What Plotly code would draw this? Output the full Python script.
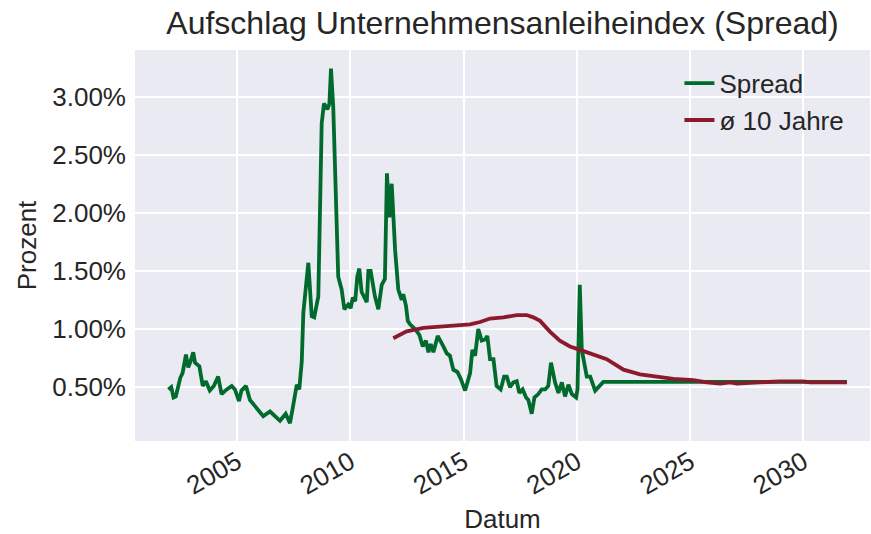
import plotly.graph_objects as go

# Spread (Prozent), decimal years
spread_year = [
    2001.97, 2002.10, 2002.20, 2002.30, 2002.50, 2002.60, 2002.75, 2002.85, 2002.95, 2003.07,
    2003.15, 2003.34, 2003.49, 2003.63, 2003.80, 2003.98, 2004.17, 2004.32, 2004.55, 2004.77,
    2004.91, 2005.09, 2005.20, 2005.40, 2005.57, 2005.80, 2005.94, 2006.16, 2006.46, 2006.68,
    2006.90, 2007.15, 2007.34, 2007.49, 2007.64, 2007.75, 2007.86, 2007.93, 2008.15, 2008.30,
    2008.41, 2008.59, 2008.74, 2008.84, 2008.99, 2009.08, 2009.15, 2009.25, 2009.47, 2009.62,
    2009.74, 2009.91, 2010.02, 2010.11, 2010.22, 2010.31, 2010.40, 2010.50, 2010.73, 2010.80,
    2010.90, 2011.09, 2011.24, 2011.39, 2011.53, 2011.62, 2011.73, 2011.83, 2011.98, 2012.12,
    2012.27, 2012.34, 2012.46, 2012.54, 2012.64, 2012.86, 2013.05, 2013.20, 2013.34, 2013.45,
    2013.55, 2013.67, 2013.86, 2014.11, 2014.26, 2014.40, 2014.55, 2014.73, 2014.88, 2015.07,
    2015.29, 2015.39, 2015.51, 2015.65, 2015.80, 2015.95, 2016.05, 2016.17, 2016.32, 2016.46,
    2016.64, 2016.79, 2016.91, 2017.05, 2017.20, 2017.35, 2017.46, 2017.61, 2017.76, 2017.86,
    2018.01, 2018.13, 2018.30, 2018.45, 2018.60, 2018.74, 2018.86, 2019.04, 2019.19, 2019.34,
    2019.48, 2019.63, 2019.78, 2019.97, 2020.03, 2020.13, 2020.22, 2020.44, 2020.59, 2020.81,
    2021.03, 2021.17, 2022.0, 2024.0, 2026.0, 2028.0, 2030.0, 2031.92,
]
spread_value = [
    0.48, 0.50, 0.41, 0.42, 0.58, 0.62, 0.78, 0.67, 0.72, 0.80,
    0.71, 0.68, 0.51, 0.55, 0.47, 0.51, 0.59, 0.44, 0.48, 0.51,
    0.48, 0.38, 0.47, 0.51, 0.39, 0.34, 0.31, 0.25, 0.29, 0.25,
    0.21, 0.27, 0.19, 0.35, 0.52, 0.48, 0.72, 1.14, 1.57, 1.11,
    1.10, 1.28, 2.77, 2.94, 2.89, 2.94, 3.24, 2.91, 1.45, 1.34,
    1.17, 1.21, 1.18, 1.27, 1.24, 1.45, 1.52, 1.32, 1.23, 1.50,
    1.50, 1.28, 1.17, 1.38, 1.43, 2.34, 1.96, 2.25, 1.68, 1.34,
    1.25, 1.30, 1.20, 1.07, 1.04, 1.00, 0.95, 0.85, 0.90, 0.80,
    0.87, 0.80, 0.94, 0.85, 0.79, 0.77, 0.65, 0.63, 0.57, 0.47,
    0.62, 0.82, 0.77, 1.00, 0.90, 0.91, 0.94, 0.74, 0.74, 0.51,
    0.48, 0.59, 0.59, 0.50, 0.54, 0.55, 0.45, 0.48, 0.41, 0.39,
    0.27, 0.41, 0.44, 0.48, 0.48, 0.51, 0.71, 0.54, 0.45, 0.54,
    0.42, 0.52, 0.44, 0.41, 0.48, 1.38, 0.82, 0.59, 0.59, 0.47,
    0.52, 0.545, 0.545, 0.545, 0.545, 0.545, 0.545, 0.545,
]

# 10-year rolling average (Prozent)
avg_year = [
    2011.90, 2012.49, 2013.23, 2013.96, 2014.70, 2015.29, 2015.73, 2016.17, 2016.76, 2017.35,
    2017.79, 2018.08, 2018.38, 2018.80, 2019.25, 2019.70, 2020.14, 2020.58, 2021.03, 2021.32,
    2022.06, 2022.79, 2023.53, 2024.26, 2025.14, 2025.74, 2026.33, 2026.77, 2027.06, 2027.95,
    2028.97, 2030.00, 2030.30, 2031.92,
]
avg_value = [
    0.92, 0.98, 1.01, 1.02, 1.03, 1.04, 1.06, 1.09, 1.10, 1.12,
    1.12, 1.10, 1.07, 0.98, 0.90, 0.85, 0.82, 0.79, 0.76, 0.74,
    0.65, 0.61, 0.59, 0.57, 0.56, 0.54, 0.53, 0.54, 0.53, 0.54,
    0.55, 0.55, 0.54, 0.54,
]

x_ticks = [2005, 2010, 2015, 2020, 2025, 2030]
x_tick_text = ["2005", "2010", "2015", "2020", "2025", "2030"]
y_ticks = [0.5, 1.0, 1.5, 2.0, 2.5, 3.0]
y_tick_text = ["0.50%", "1.00%", "1.50%", "2.00%", "2.50%", "3.00%"]

FONT = "Liberation Sans, Arial, sans-serif"
TXT = "#262626"

fig = go.Figure()
fig.add_trace(go.Scatter(x=spread_year, y=spread_value, mode="lines", name="Spread",
                         legendgroup="a",
                         line=dict(color="#006B2D", width=3.8)))
fig.add_trace(go.Scatter(x=avg_year, y=avg_value, mode="lines", name="ø 10 Jahre",
                         legendgroup="b",
                         line=dict(color="#8B1A2E", width=3.8)))

fig.update_layout(
    width=871, height=534,
    margin=dict(l=135, r=1, t=50, b=93, autoexpand=False),
    paper_bgcolor="white",
    plot_bgcolor="#EAEAF2",
    font=dict(family=FONT, size=26, color=TXT),
    title=dict(text="Aufschlag Unternehmensanleiheindex (Spread)", x=0.5, xref="paper",
               y=0.958, yref="container", yanchor="middle",
               font=dict(family=FONT, size=32, color=TXT)),
    showlegend=True,
    legend=dict(x=0.972, xanchor="right", y=0.975, yanchor="top",
                bgcolor="rgba(0,0,0,0)", font=dict(family=FONT, size=26, color=TXT),
                tracegroupgap=0, traceorder="grouped"),
    xaxis=dict(range=[2000.5, 2032.94], tickmode="array", tickvals=x_ticks, ticktext=x_tick_text,
               tickangle=-30, showgrid=True, gridcolor="white", gridwidth=2,
               zeroline=False, showline=False, ticks="",
               title=dict(text="Datum", standoff=17, font=dict(size=26)),
               tickfont=dict(size=26), automargin=False),
    yaxis=dict(range=[0.036, 3.401], tickmode="array", tickvals=y_ticks, ticktext=y_tick_text,
               showgrid=True, gridcolor="white", gridwidth=2,
               zeroline=False, showline=False, ticks="", ticklabelstandoff=8,
               title=dict(text="Prozent", standoff=8, font=dict(size=26)),
               tickfont=dict(size=26), automargin=False),
)

fig.write_html("out.html", config={"displayModeBar": False},
               post_script="document.body.style.margin='0';")
